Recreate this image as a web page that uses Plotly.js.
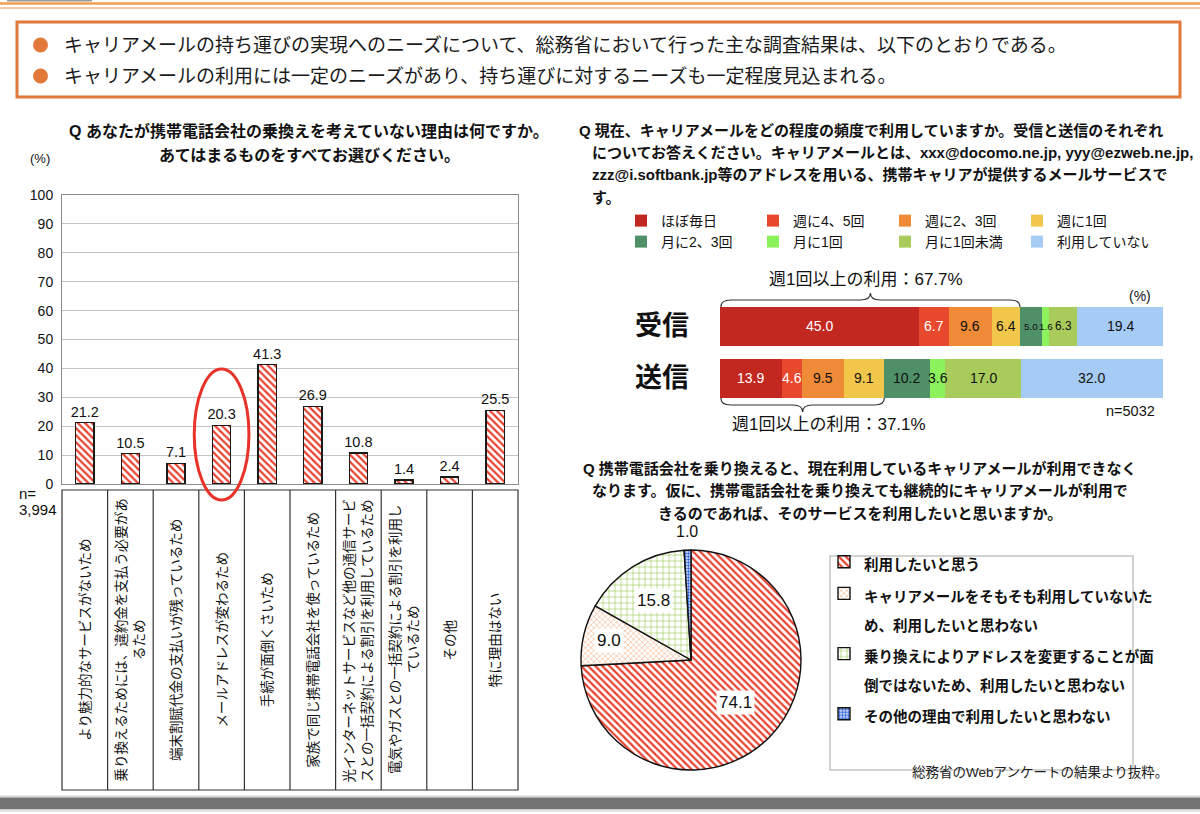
<!DOCTYPE html>
<html><head><meta charset="utf-8">
<script src="https://cdn.plot.ly/plotly-3.0.1.min.js"></script>
<style>html,body{margin:0;padding:0;background:#fff}#chart{width:1200px;height:814px}</style>
</head><body><div id="chart"></div>
<script>
// ---------------- data ----------------
const headerLines = [
  'キャリアメールの持ち運びの実現へのニーズについて、総務省において行った主な調査結果は、以下のとおりである。',
  'キャリアメールの利用には一定のニーズがあり、持ち運びに対するニーズも一定程度見込まれる。'
];
const reasonTitle = ['Q あなたが携帯電話会社の乗換えを考えていない理由は何ですか。', 'あてはまるものをすべてお選びください。'];
const reasonCategories = [
  'より魅力的なサービスがないため',
  '乗り換えるためには、違約金を支払う必要があ<br>るため',
  '端末割賦代金の支払いが残っているため',
  'メールアドレスが変わるため',
  '手続が面倒くさいため',
  '家族で同じ携帯電話会社を使っているため',
  '光インターネットサービスなど他の通信サービ<br>スとの一括契約による割引を利用しているため',
  '電気やガスとの一括契約による割引を利用し<br>ているため',
  'その他',
  '特に理由はない'
];
const reasonValues = [21.2, 10.5, 7.1, 20.3, 41.3, 26.9, 10.8, 1.4, 2.4, 25.5];
const reasonN = '3,994';
const highlightIndex = 3;

const freqTitle = [
  'Q 現在、キャリアメールをどの程度の頻度で利用していますか。受信と送信のそれぞれ',
  'についてお答えください。キャリアメールとは、xxx@docomo.ne.jp, yyy@ezweb.ne.jp,',
  'zzz@i.softbank.jp等のアドレスを用いる、携帯キャリアが提供するメールサービスで',
  'す。'
];
const freqLabels = ['ほぼ毎日', '週に4、5回', '週に2、3回', '週に1回', '月に2、3回', '月に1回', '月に1回未満', '利用していない'];
const freqRows = ['送信', '受信'];
const receiveValues = [45.0, 6.7, 9.6, 6.4, 5.0, 1.6, 6.3, 19.4];
const sendValues = [13.9, 4.6, 9.5, 9.1, 10.2, 3.6, 17.0, 32.0];
const weeklyCount = 4; // first four categories = at least once a week
const freqN = 'n=5032';

const pieTitle = [
  'Q 携帯電話会社を乗り換えると、現在利用しているキャリアメールが利用できなく',
  'なります。仮に、携帯電話会社を乗り換えても継続的にキャリアメールが利用で',
  'きるのであれば、そのサービスを利用したいと思いますか。'
];
const pieLabels = [
  '利用したいと思う',
  'キャリアメールをそもそも利用していないた<br>め、利用したいと思わない',
  '乗り換えによりアドレスを変更することが面<br>倒ではないため、利用したいと思わない',
  'その他の理由で利用したいと思わない'
];
const pieValues = [74.1, 9.0, 15.8, 1.0];
const sourceNote = '総務省のWebアンケートの結果より抜粋。';

// ---------------- styling ----------------
const W = 1200, H = 814;
const F = 'Liberation Sans, Noto Sans CJK JP, sans-serif';
const px = p => p / W;
const py = p => 1 - p / H;
const ORANGE = '#E2793A';
const freqColors = ['#C2281F', '#E8482B', '#EF8A36', '#F0C64B', '#4F9068', '#8CF25C', '#A8CB5B', '#A6CBF5'];
const freqTextColors = ['#ffffff', '#ffffff', '#111', '#111', '#111', '#111', '#111', '#111'];
const barLeft = 720, barRight = 1163;

const traces = [];
traces.push({
  type: 'bar', x: reasonCategories, y: reasonValues, xaxis: 'x', yaxis: 'y', width: 0.4,
  marker: {color: '#ffffff', line: {color: '#1a1a1a', width: 1.5},
    pattern: {shape: '\\', fgcolor: '#E8412F', bgcolor: '#ffffff', size: 5, solidity: 0.45}},
  text: reasonValues.map(v => v.toFixed(1)), textposition: 'outside', cliponaxis: false, constraintext: 'none',
  textfont: {family: F, size: 14.5, color: '#111'}, showlegend: false, hoverinfo: 'skip'
});
freqLabels.forEach((lab, i) => {
  traces.push({
    type: 'bar', orientation: 'h', name: lab, y: freqRows, x: [sendValues[i], receiveValues[i]],
    xaxis: 'x2', yaxis: 'y2', width: 0.75, marker: {color: freqColors[i], line: {width: 0}},
    textposition: 'none', legend: i < 4 ? 'legend' : 'legend3', hoverinfo: 'skip'
  });
});
const pieCx = 691, pieCy = 660, pieR = 110;
traces.push({
  type: 'pie', labels: pieLabels.map(l => '<span style="font-size:14.5px;font-weight:bold">' + l + '</span>'),
  values: pieValues, sort: false, direction: 'clockwise', rotation: 0,
  domain: {x: [px(pieCx - pieR), px(pieCx + pieR)], y: [py(pieCy + pieR), py(pieCy - pieR)]},
  textinfo: 'none', hoverinfo: 'skip', legend: 'legend2',
  marker: {colors: ['#ffffff', '#ffffff', '#ffffff', '#ffffff'], line: {color: '#111', width: 1.4},
    pattern: {shape: ['\\', 'x', '+', '.'], fgcolor: ['#E8412F', '#F6C2A0', '#9CCB5A', '#2F62D8'],
      bgcolor: ['#ffffff', '#ffffff', '#ffffff', '#DCE6FA'], size: [5, 4, 6, 3], solidity: [0.45, 0.35, 0.2, 0.5]}}
});

// ---------------- annotations ----------------
const ann = [];
const A = (o) => ann.push(Object.assign({xref: 'paper', yref: 'paper', showarrow: false, xanchor: 'center', yanchor: 'middle'}, o));
headerLines.forEach((t, i) => A({x: px(62), y: py(45 + i * 31), xanchor: 'left', text: t,
  font: {family: F, size: 19, color: '#1a1a1a'}}));
reasonTitle.forEach((t, i) => A({x: px(309), y: py(131 + i * 24), text: t,
  font: {family: F, size: 16, color: '#111', weight: 'bold'}}));
A({x: px(40), y: py(158), text: '(%)', font: {family: F, size: 13, color: '#111'}});
A({x: px(17), y: py(493), xanchor: 'left', text: 'n=', font: {family: F, size: 15, color: '#111'}});
A({x: px(17), y: py(509), xanchor: 'left', text: reasonN, font: {family: F, size: 15, color: '#111'}});
reasonCategories.forEach((c, i) => ann.push({xref: 'x', yref: 'paper', x: c, y: py(640), text: c, textangle: -90,
  showarrow: false, xanchor: 'center', yanchor: 'middle', align: 'center', font: {family: F, size: 13.5, color: '#111'}}));

freqTitle.forEach((t, i) => A({x: px(i === 0 ? 577 : 590), y: py(130 + i * 22.5), xanchor: 'left',
  text: t, font: {family: F, size: 15, color: '#111', weight: 'bold'}}));
// stacked segment values (drawn on top of all segments); crowded ones are shrunk to fit between neighbours
const pxPerUnit = (barRight - barLeft) / 100;
[sendValues, receiveValues].forEach((vals, r) => {
  const centers = [];
  let c = 0;
  vals.forEach(v => { centers.push(c + v / 2); c += v; });
  vals.forEach((v, i) => {
    const gaps = [];
    if (i > 0) gaps.push((centers[i] - centers[i - 1]) * pxPerUnit);
    if (i < vals.length - 1) gaps.push((centers[i + 1] - centers[i]) * pxPerUnit);
    const room = Math.min(...gaps) - 1;
    const size = Math.max(9, Math.min(14, room / 1.39));
    ann.push({xref: 'x2', yref: 'y2', x: centers[i], y: freqRows[r], text: v.toFixed(1), showarrow: false,
      xanchor: 'center', yanchor: 'middle', font: {family: F, size: size, color: freqTextColors[i]}});
  });
});
const sumFirst = arr => arr.slice(0, weeklyCount).reduce((a, b) => a + b, 0);
const recWeekly = sumFirst(receiveValues), sendWeekly = sumFirst(sendValues);
ann.push({xref: 'x2', yref: 'paper', x: recWeekly / 2 - 1, y: py(279), showarrow: false, xanchor: 'center', yanchor: 'middle',
  text: '週1回以上の利用：' + recWeekly.toFixed(1) + '%', font: {family: F, size: 17, color: '#111'}});
ann.push({xref: 'x2', yref: 'paper', x: sendWeekly / 2 + 6, y: py(424), showarrow: false, xanchor: 'center', yanchor: 'middle',
  text: '週1回以上の利用：' + sendWeekly.toFixed(1) + '%', font: {family: F, size: 17, color: '#111'}});
A({x: px(1140), y: py(296), text: '(%)', font: {family: F, size: 14, color: '#111'}});
A({x: px(1130), y: py(411), text: freqN, font: {family: F, size: 14.5, color: '#111'}});

pieTitle.forEach((t, i) => A({x: px(860), y: py(468 + i * 22.5), text: t,
  font: {family: F, size: 15, color: '#111', weight: 'bold'}}));
// pie value labels, placed from the data angles
const labelRadius = [0.56, 0.77, 0.64, 1.165];
const pieTotal = pieValues.reduce((a, b) => a + b, 0);
let cum = 0;
pieValues.forEach((v, i) => {
  const mid = (cum + v / 2) / pieTotal * 2 * Math.PI; cum += v;
  const lx = pieCx + labelRadius[i] * pieR * Math.sin(mid);
  const ly = pieCy - labelRadius[i] * pieR * Math.cos(mid);
  A({x: px(lx), y: py(ly), text: v.toFixed(1), bgcolor: i < 3 ? '#ffffff' : 'rgba(0,0,0,0)', borderpad: i < 3 ? 2 : 0,
    font: {family: F, size: i < 3 ? 17 : 16, color: '#111'}});
});
A({x: px(1170), y: py(772), xanchor: 'right', text: sourceNote, font: {family: F, size: 13.5, color: '#222'}});

// ---------------- shapes ----------------
const shapes = [];
const S = (o) => shapes.push(Object.assign({xref: 'paper', yref: 'paper'}, o));
S({type: 'rect', x0: px(7), x1: px(92), y0: py(0), y1: py(1.5), fillcolor: '#9a9a9a', line: {width: 0}});
S({type: 'line', x0: 0, x1: 1, y0: py(3.5), y1: py(3.5), line: {color: '#F0A055', width: 2.5}});
S({type: 'line', x0: 0, x1: 1, y0: py(8), y1: py(8), line: {color: '#F4B77E', width: 1.3}});
S({type: 'rect', x0: px(17), x1: px(1180), y0: py(97), y1: py(22), line: {color: ORANGE, width: 3}, fillcolor: 'rgba(0,0,0,0)'});
[45, 76].forEach(y => S({type: 'circle', x0: px(33), x1: px(48), y0: py(y + 7.5), y1: py(y - 7.5), fillcolor: ORANGE, line: {width: 0}}));
// category label table
S({type: 'rect', x0: px(62), x1: px(518), y0: py(790), y1: py(490), line: {color: '#333', width: 1.2}});
for (let i = 0; i < reasonCategories.length - 1; i++)
  shapes.push({type: 'line', xref: 'x', yref: 'paper', x0: i + 0.5, x1: i + 0.5, y0: py(790), y1: py(490), line: {color: '#333', width: 1.2}});
// highlight ellipse
shapes.push({type: 'circle', xref: 'x', yref: 'paper', x0: highlightIndex - 0.6, x1: highlightIndex + 0.6,
  y0: py(500), y1: py(369), line: {color: '#E8322A', width: 3}, fillcolor: 'rgba(0,0,0,0)', layer: 'above'});
// braces
function bracePath(x0, x1, yBase, yMid, yTip) {
  const xm = (x0 + x1) / 2, d = 2.2;
  return `M ${x0},${yBase} Q ${x0},${yMid} ${x0 + d},${yMid} L ${xm - d},${yMid} Q ${xm},${yMid} ${xm},${yTip} ` +
         `Q ${xm},${yMid} ${xm + d},${yMid} L ${x1 - d},${yMid} Q ${x1},${yMid} ${x1},${yBase}`;
}
shapes.push({type: 'path', xref: 'x2', yref: 'paper', path: bracePath(0.2, recWeekly, py(307), py(300), py(293)), line: {color: '#333', width: 1.2}});
shapes.push({type: 'path', xref: 'x2', yref: 'paper', path: bracePath(0.2, sendWeekly, py(398), py(405), py(412)), line: {color: '#333', width: 1.2}});
// pie legend box
S({type: 'rect', x0: px(830), x1: px(1133), y0: py(770), y1: py(556), line: {color: '#C4C4C4', width: 1.5}});
// footer
S({type: 'rect', x0: 0, x1: 1, y0: py(797.5), y1: py(795.5), fillcolor: '#D6D6D6', line: {width: 0}});
S({type: 'rect', x0: 0, x1: 1, y0: py(809.5), y1: py(797.5), fillcolor: '#737373', line: {width: 0}});
S({type: 'rect', x0: 0, x1: 1, y0: py(812), y1: py(809.5), fillcolor: '#E4E4E4', line: {width: 0}});

// ---------------- layout ----------------
const layout = {
  width: W, height: H, margin: {l: 0, r: 0, t: 0, b: 0},
  paper_bgcolor: '#ffffff', plot_bgcolor: '#ffffff', barmode: 'stack',
  font: {family: F, color: '#111'},
  xaxis: {domain: [px(62), px(518)], anchor: 'y', type: 'category', showticklabels: false, ticks: '',
    showline: true, mirror: true, linecolor: '#8a8a8a', linewidth: 1, showgrid: false, fixedrange: true},
  yaxis: {domain: [py(484), py(195)], anchor: 'x', range: [0, 100], dtick: 10, showline: true, mirror: true,
    linecolor: '#8a8a8a', gridcolor: '#C4C4C4', zeroline: false, ticks: '', ticklabelstandoff: 5,
    tickfont: {family: F, size: 14, color: '#111'}, fixedrange: true},
  xaxis2: {domain: [px(barLeft), px(barRight)], anchor: 'y2', range: [0, 100], visible: false, fixedrange: true},
  yaxis2: {domain: [py(404), py(300)], anchor: 'x2', type: 'category', showline: false, showgrid: false,
    zeroline: false, ticks: '', ticklabelstandoff: 30, tickfont: {family: F, size: 27, color: '#111', weight: 'bold'}, fixedrange: true},
  legend: {orientation: 'h', x: px(621), y: py(205), xanchor: 'left', yanchor: 'top', entrywidth: 87, entrywidthmode: 'pixels',
    font: {family: F, size: 14, color: '#111'}, bgcolor: 'rgba(0,0,0,0)', traceorder: 'normal'},
  legend3: {orientation: 'h', x: px(621), y: py(226), xanchor: 'left', yanchor: 'top', entrywidth: 87, entrywidthmode: 'pixels',
    font: {family: F, size: 14, color: '#111'}, bgcolor: 'rgba(0,0,0,0)', traceorder: 'normal'},
  legend2: {orientation: 'v', x: px(824), y: py(541), xanchor: 'left', yanchor: 'top', valign: 'top',
    font: {family: F, size: 22, color: '#111'}, bgcolor: 'rgba(0,0,0,0)'},
  annotations: ann, shapes: shapes
};
Plotly.newPlot('chart', traces, layout, {displayModeBar: false, staticPlot: true});
</script>
</body></html>
